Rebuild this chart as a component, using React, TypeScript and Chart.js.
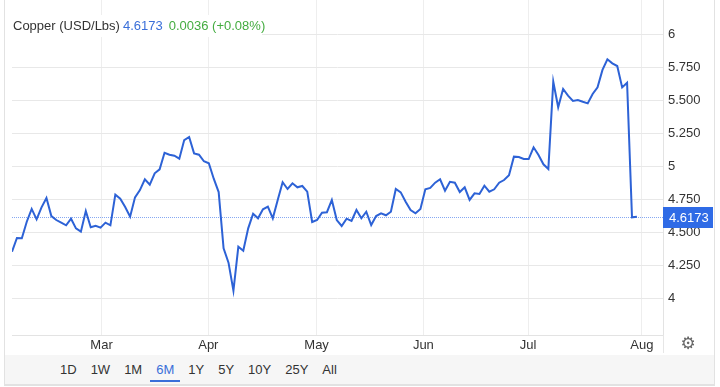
import React, { useEffect, useRef } from 'react';
import { Chart, registerables } from 'chart.js';

Chart.register(...registerables);

// Daily copper closes (USD/Lbs), Feb -> end of Jul
const copperPrices = [
  4.353, 4.457, 4.455, 4.58, 4.677, 4.598, 4.689, 4.76, 4.623, 4.593,
  4.573, 4.553, 4.603, 4.53, 4.505, 4.661, 4.538, 4.55, 4.535, 4.573,
  4.553, 4.785, 4.755, 4.692, 4.618, 4.765, 4.82, 4.902, 4.861, 4.947,
  4.977, 5.103, 5.088, 5.08, 5.058, 5.199, 5.222, 5.098, 5.088, 5.038,
  5.023, 4.906, 4.805, 4.379, 4.27, 4.058, 4.391, 4.361, 4.53, 4.641,
  4.606, 4.674, 4.694, 4.606, 4.745, 4.879, 4.828, 4.871, 4.841, 4.851,
  4.808, 4.578, 4.593, 4.648, 4.652, 4.745, 4.593, 4.548, 4.603, 4.586,
  4.669, 4.606, 4.656, 4.555, 4.623, 4.644, 4.629, 4.656, 4.828, 4.803,
  4.732, 4.669, 4.644, 4.677, 4.826, 4.836, 4.876, 4.902, 4.815, 4.883,
  4.876, 4.805, 4.841, 4.745, 4.795, 4.79, 4.853, 4.808, 4.826, 4.876,
  4.896, 4.932, 5.073, 5.07, 5.055, 5.055, 5.144, 5.086, 5.015, 4.98,
  5.641, 5.447, 5.586, 5.535, 5.495, 5.502, 5.489, 5.477, 5.548, 5.598,
  5.73, 5.811, 5.78, 5.76, 5.598, 5.633, 4.6137, 4.6173,
];

// Month boundaries expressed in trading-day index units
const monthLabels = ['Mar', 'Apr', 'May', 'Jun', 'Jul', 'Aug'];
const monthTickAt = [18.2, 39.9, 61.9, 83.6, 104.9, 128.0];

const yTickValues = [4, 4.25, 4.5, 4.75, 5, 5.25, 5.5, 5.75, 6];

const seriesName = 'Copper (USD/Lbs)';
const lastPrice = 4.6173;
const priceChange = 0.0036;
const priceChangePct = 0.08;

const rangeButtons = ['1D', '1W', '1M', '6M', '1Y', '5Y', '10Y', '25Y', 'All'];
const activeRange = '6M';

const FONT = '"Liberation Sans", Arial, Helvetica, sans-serif';
const LINE_BLUE = '#2d62d6';
const TAG_BLUE = '#2f6be6';

const priceTagPlugin = {
  id: 'priceTag',
  beforeDatasetsDraw(chart: any) {
    const { ctx, chartArea, scales } = chart;
    const py = Math.round(scales.y.getPixelForValue(lastPrice)) + 0.5;
    ctx.save();
    ctx.strokeStyle = '#86a8f2';
    ctx.lineWidth = 1;
    ctx.setLineDash([1, 1]);
    ctx.beginPath();
    ctx.moveTo(chartArea.left, py);
    ctx.lineTo(chartArea.right, py);
    ctx.stroke();
    ctx.restore();
  },
  afterDraw(chart: any) {
    const { ctx, chartArea, scales } = chart;
    const py = Math.round(scales.y.getPixelForValue(lastPrice));
    ctx.save();
    // right border continuing through the label row
    ctx.strokeStyle = '#e6e6e6';
    ctx.lineWidth = 1;
    ctx.beginPath();
    ctx.moveTo(Math.round(chartArea.right) + 0.5, chartArea.bottom);
    ctx.lineTo(Math.round(chartArea.right) + 0.5, chart.height);
    ctx.stroke();
    // price tag
    ctx.fillStyle = TAG_BLUE;
    ctx.fillRect(chartArea.right, py - 10, 50, 21);
    ctx.fillStyle = '#ffffff';
    ctx.font = `13px ${FONT}`;
    ctx.textAlign = 'left';
    ctx.textBaseline = 'middle';
    ctx.fillText(lastPrice.toFixed(4), chartArea.right + 6, py + 1);
    ctx.restore();
  },
};

function formatY(v: number) {
  return Number.isInteger(v) ? String(v) : v.toFixed(3);
}

export default function App() {
  const canvasRef = useRef<HTMLCanvasElement | null>(null);

  useEffect(() => {
    const canvas = canvasRef.current;
    if (!canvas) return;
    const chart = new Chart(canvas, {
      type: 'line',
      data: {
        datasets: [
          {
            label: seriesName,
            data: copperPrices.map((v, i) => ({ x: i, y: v })),
            borderColor: LINE_BLUE,
            borderWidth: 2,
            pointRadius: 0,
            tension: 0,
            fill: false,
          },
        ],
      },
      options: {
        responsive: false,
        animation: false,
        devicePixelRatio: 1,
        layout: { padding: { left: 12, right: 0, top: 0, bottom: 0 } },
        plugins: {
          legend: { display: false },
          tooltip: { enabled: false },
          title: { display: false },
        },
        scales: {
          x: {
            type: 'linear',
            min: 0,
            max: 132.3,
            grid: { color: '#eeeeee', drawTicks: false },
            border: { display: true, color: '#e3e3e3' },
            ticks: {
              padding: 3,
              color: '#333333',
              font: { family: FONT, size: 13 },
              maxRotation: 0,
              autoSkip: false,
              callback: (value: any) => {
                const idx = monthTickAt.indexOf(Number(value));
                return idx >= 0 ? monthLabels[idx] : '';
              },
            },
            afterBuildTicks: (scale: any) => {
              scale.ticks = monthTickAt.map((v) => ({ value: v }));
            },
            afterFit: (scale: any) => {
              scale.height = 18;
              scale.paddingLeft = 0;
              scale.paddingRight = 0;
            },
          },
          y: {
            type: 'linear',
            position: 'right',
            min: 3.722,
            max: 6.26,
            grid: { color: '#e8e8e8', drawTicks: false },
            border: { display: true, color: '#e3e3e3' },
            ticks: {
              padding: 5,
              color: '#333333',
              font: { family: FONT, size: 13 },
              callback: (value: any) => formatY(Number(value)),
            },
            afterBuildTicks: (scale: any) => {
              scale.ticks = yTickValues.map((v) => ({ value: v }));
            },
            afterFit: (scale: any) => {
              scale.width = 57;
              scale.paddingTop = 0;
              scale.paddingBottom = 0;
            },
          },
        },
      },
      plugins: [priceTagPlugin],
    });
    return () => chart.destroy();
  }, []);

  return (
    <div
      style={{
        position: 'fixed',
        left: 0,
        top: 0,
        width: 720,
        height: 387,
        background: '#ffffff',
        fontFamily: FONT,
        overflow: 'hidden',
      }}
    >
      <div
        style={{
          position: 'absolute',
          left: 4,
          top: -1,
          width: 711,
          height: 387,
          border: '1px solid #e2e2e2',
          boxSizing: 'border-box',
        }}
      />
      <canvas
        ref={canvasRef}
        width={720}
        height={353}
        style={{ position: 'absolute', left: 0, top: 0, width: 720, height: 353 }}
      />
      <div
        style={{
          position: 'absolute',
          left: 8,
          top: 15,
          width: 254,
          height: 22,
          background: '#ffffff',
          paddingLeft: 5,
          boxSizing: 'border-box',
          lineHeight: '22px',
          fontSize: 13,
          whiteSpace: 'nowrap',
          color: '#333333',
        }}
      >
        <span>{seriesName}</span>
        <span style={{ color: '#3a6fd9', marginLeft: 3 }}>{lastPrice.toFixed(4)}</span>
        <span style={{ color: '#44ac40', marginLeft: 6 }}>
          {priceChange.toFixed(4)} (+{priceChangePct.toFixed(2)}%)
        </span>
      </div>
      <div
        style={{
          position: 'absolute',
          left: 678,
          top: 333,
          width: 20,
          height: 20,
          lineHeight: '20px',
          textAlign: 'center',
          fontSize: 17,
          color: '#666666',
          fontFamily: '"DejaVu Sans", sans-serif',
        }}
      >
        ⚙
      </div>
      <div
        style={{
          position: 'absolute',
          left: 5,
          top: 355,
          width: 709,
          height: 30,
          background: '#f6f6f6',
          borderBottom: '1px solid #e2e2e2',
          boxSizing: 'border-box',
        }}
      />
      <div
        style={{
          position: 'absolute',
          left: 54,
          top: 360,
          display: 'flex',
          gap: 2,
          fontSize: 13,
        }}
      >
        {rangeButtons.map((b) => (
          <div
            key={b}
            style={{
              padding: '0 6px',
              height: 20,
              lineHeight: '20px',
              color: b === activeRange ? '#3a6fd9' : '#333333',
              borderBottom: b === activeRange ? '2px solid #3a6fd9' : '2px solid transparent',
            }}
          >
            {b}
          </div>
        ))}
      </div>
    </div>
  );
}
